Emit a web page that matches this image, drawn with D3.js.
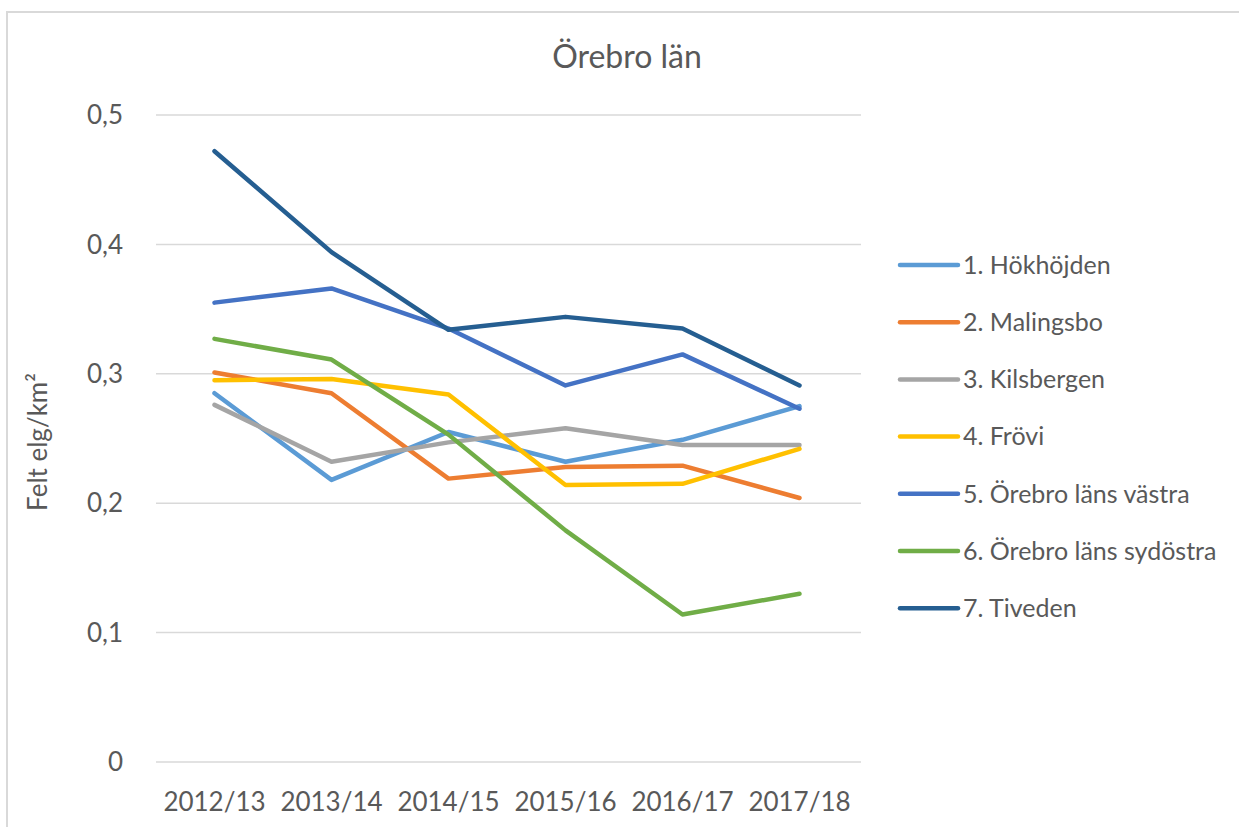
<!DOCTYPE html>
<html>
<head>
<meta charset="utf-8">
<script src="https://cdn.jsdelivr.net/npm/d3@7"></script>
<style>
  html, body { margin: 0; padding: 0; background: #ffffff; }
  svg { display: block; }
  text { font-family: "Lato", "Open Sans", sans-serif; fill: #595959; }
</style>
</head>
<body>
<svg id="chart" width="1239" height="827"></svg>
<script>
// Seasons on the x axis
const seasons = ["2012/13", "2013/14", "2014/15", "2015/16", "2016/17", "2017/18"];

// Felled moose per km² for each management area
const hokhojden   = [0.285, 0.218, 0.255, 0.232, 0.249, 0.275];
const malingsbo   = [0.301, 0.285, 0.219, 0.228, 0.229, 0.204];
const kilsbergen  = [0.276, 0.232, 0.247, 0.258, 0.245, 0.245];
const frovi       = [0.295, 0.296, 0.284, 0.214, 0.215, 0.242];
const vastra      = [0.355, 0.366, 0.335, 0.291, 0.315, 0.273];
const sydostra    = [0.327, 0.311, 0.253, 0.179, 0.114, 0.130];
const tiveden     = [0.472, 0.394, 0.334, 0.344, 0.335, 0.291];

const seriesNames = ["1. Hökhöjden", "2. Malingsbo", "3. Kilsbergen", "4. Frövi",
                     "5. Örebro läns västra", "6. Örebro läns sydöstra", "7. Tiveden"];
const seriesColors = ["#5B9BD5", "#ED7D31", "#A5A5A5", "#FFC000", "#4472C4", "#70AD47", "#255E91"];
const yTicks = [0, 0.1, 0.2, 0.3, 0.4, 0.5];

const series = [hokhojden, malingsbo, kilsbergen, frovi, vastra, sydostra, tiveden]
  .map((values, i) => ({ name: seriesNames[i], color: seriesColors[i], values }));

const svg = d3.select("#chart");

// Chart frame
svg.append("rect")
  .attr("x", 7).attr("y", 12)
  .attr("width", 1250).attr("height", 840)
  .attr("fill", "none")
  .attr("stroke", "#d9d9d9")
  .attr("stroke-width", 2);

const x = d3.scalePoint().domain(seasons).range([156, 858]).padding(0.5);
const y = d3.scaleLinear().domain([0, 0.5]).range([762, 115]);

const fmt = v => v === 0 ? "0" : d3.format(".1f")(v).replace(".", ",");

// Horizontal gridlines
svg.append("g")
  .selectAll("line")
  .data(yTicks)
  .join("line")
  .attr("x1", 156).attr("x2", 861)
  .attr("y1", d => y(d)).attr("y2", d => y(d))
  .attr("stroke", "#d9d9d9")
  .attr("stroke-width", 1.5);

// Y axis tick labels
svg.append("g")
  .selectAll("text")
  .data(yTicks)
  .join("text")
  .attr("x", 123)
  .attr("y", d => y(d))
  .attr("dy", "0.35em")
  .attr("text-anchor", "end")
  .attr("font-size", 26)
  .text(fmt);

// X axis tick labels
svg.append("g")
  .selectAll("text")
  .data(seasons)
  .join("text")
  .attr("x", d => x(d))
  .attr("y", 802)
  .attr("dy", "0.35em")
  .attr("text-anchor", "middle")
  .attr("font-size", 26)
  .text(d => d);

// Title
svg.append("text")
  .attr("x", 627).attr("y", 57)
  .attr("dy", "0.35em")
  .attr("text-anchor", "middle")
  .attr("font-size", 32)
  .text("Örebro län");

// Y axis title
svg.append("text")
  .attr("transform", "translate(38,442) rotate(-90)")
  .attr("dy", "0.35em")
  .attr("text-anchor", "middle")
  .attr("font-size", 26)
  .text("Felt elg/km²");

// Series lines
const line = d3.line()
  .x((d, i) => x(seasons[i]))
  .y(d => y(d));

svg.append("g")
  .selectAll("path")
  .data(series)
  .join("path")
  .attr("d", d => line(d.values))
  .attr("fill", "none")
  .attr("stroke", d => d.color)
  .attr("stroke-width", 4.5)
  .attr("stroke-linecap", "round")
  .attr("stroke-linejoin", "round");

// Legend
const legend = svg.append("g")
  .selectAll("g")
  .data(series)
  .join("g")
  .attr("transform", (d, i) => `translate(900,${265 + i * 57.2})`);

legend.append("line")
  .attr("x1", 0).attr("x2", 58)
  .attr("stroke", d => d.color)
  .attr("stroke-width", 4.5)
  .attr("stroke-linecap", "round");

legend.append("text")
  .attr("x", 63)
  .attr("dy", "0.35em")
  .attr("font-size", 25)
  .text(d => d.name);
</script>
</body>
</html>
